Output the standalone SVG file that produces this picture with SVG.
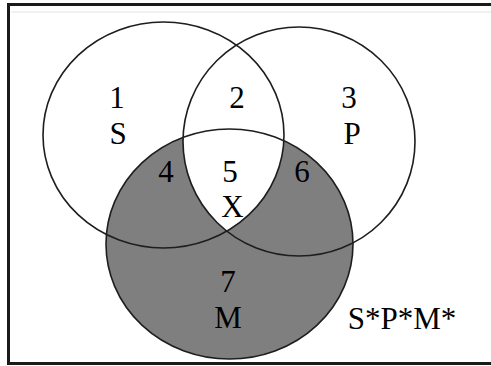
<svg xmlns="http://www.w3.org/2000/svg" width="491" height="366" viewBox="0 0 491 366">
<style>
.ring{fill:none;stroke:#1e1e1e;stroke-width:1.6}
.lbl{font-size:31px;fill:#000;text-anchor:middle}
</style>
<defs>
<clipPath id="clipS"><ellipse cx="163.5" cy="135" rx="120.5" ry="113"/></clipPath>
<clipPath id="clipP"><ellipse cx="299" cy="141.5" rx="116" ry="114.5"/></clipPath>
</defs>
<rect x="0" y="0" width="491" height="366" fill="#fff"/>
<rect x="8.5" y="4.5" width="490" height="359" fill="none" stroke="#1a1a1a" stroke-width="3"/>
<line x1="11" y1="12" x2="491" y2="12" stroke="#e4e4e4" stroke-width="1"/>
<g id="shading">
<ellipse cx="229.5" cy="244" rx="123.5" ry="115" fill="#7f7f7f"/>
<g clip-path="url(#clipS)"><g clip-path="url(#clipP)"><ellipse cx="229.5" cy="244" rx="123.5" ry="115" fill="#fff"/></g></g>
</g>
<g id="S"><ellipse class="ring" cx="163.5" cy="135" rx="120.5" ry="113"/></g>
<g id="P"><ellipse class="ring" cx="299" cy="141.5" rx="116" ry="114.5"/></g>
<g id="M"><ellipse class="ring" cx="229.5" cy="244" rx="123.5" ry="115"/></g>
<g id="labels" font-family="'Liberation Serif', 'Times New Roman', serif">
<text class="lbl" x="117" y="108">1</text>
<text class="lbl" x="118" y="144">S</text>
<text class="lbl" x="237" y="108">2</text>
<text class="lbl" x="349" y="108">3</text>
<text class="lbl" x="352" y="144">P</text>
<text class="lbl" x="166" y="182">4</text>
<text class="lbl" x="230" y="182">5</text>
<text class="lbl" x="302" y="182">6</text>
<text class="lbl" x="232.5" y="217">X</text>
<text class="lbl" x="228" y="292">7</text>
<text class="lbl" x="228" y="328">M</text>
<text class="lbl" x="402" y="329">S*P*M*</text>
</g>
</svg>
